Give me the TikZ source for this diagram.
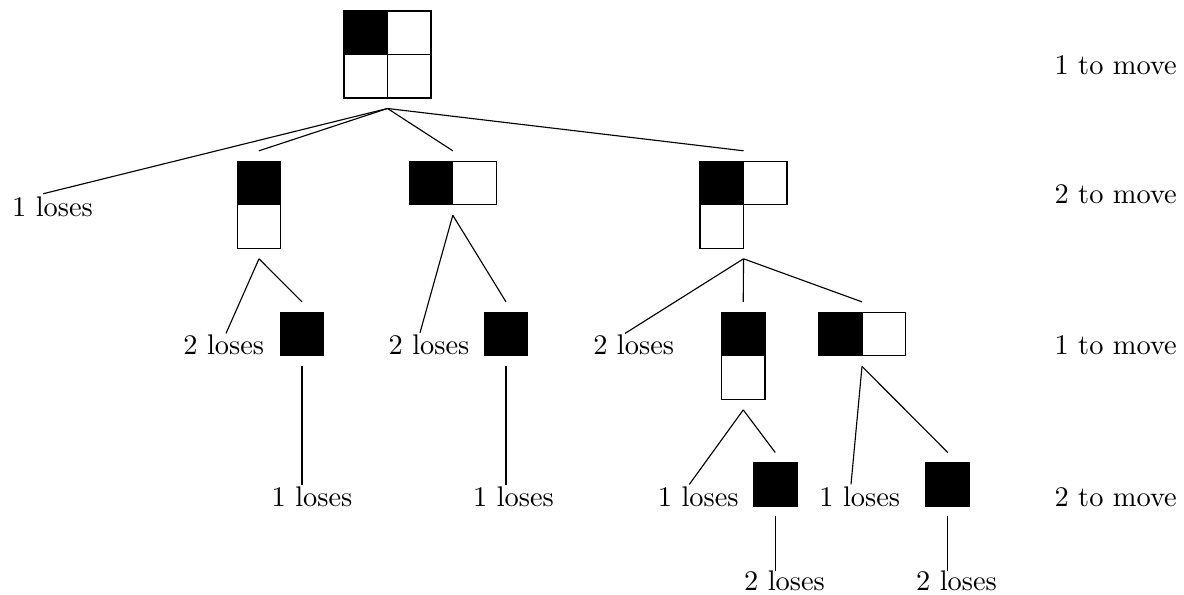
\documentclass[tikz,border=0pt]{standalone}
\usetikzlibrary{calc}
% one unit = one pixel of the 1184 x 595 drawing
\def\cellsz{43.5}
\newcommand\cellat[4]{\path[#4] ($(#1.north west)+(#2,#3)$) rectangle ++(\cellsz,\cellsz);}
\begin{document}
\begin{tikzpicture}[x=0.35211pt, y=-0.35211pt,
  shapebox/.style 2 args={minimum width={#1*0.35211pt}, minimum height={#2*0.35211pt},
                          inner sep=0pt, outer sep=0pt},
  cellw/.style={draw=black, fill=white},
  cellb/.style={draw=black, fill=black},
  lbl/.style={inner sep=0pt, anchor=base},
  rowlbl/.style={inner sep=0pt, anchor=base west},
  branch/.style={draw=black, line width=0.4pt}]
\useasboundingbox (0,0) rectangle (1184,595);

% ---- positions (boards) ----
\node[shapebox={87}{87}]     (g0) at (387.5,54.5) {};
\node[shapebox={43.5}{87}]   (d1) at (259,204.8) {};
\node[shapebox={87}{43.5}]   (d2) at (452.8,183.05) {};
\node[shapebox={87}{87}]     (d3) at (743.5,204.8) {};
\node[shapebox={43.5}{43.5}] (s1) at (302,334.15) {};
\node[shapebox={43.5}{43.5}] (s2) at (506,334.15) {};
\node[shapebox={43.5}{87}]   (d4) at (743.25,355.9) {};
\node[shapebox={87}{43.5}]   (d5) at (862,334.15) {};
\node[shapebox={43.5}{43.5}] (s3) at (775.25,484.75) {};
\node[shapebox={43.5}{43.5}] (s4) at (947.75,484.75) {};

% ---- cells ----
\cellat{g0}{0}{0}{cellb}
\cellat{g0}{43.5}{0}{cellw}
\cellat{g0}{0}{43.5}{cellw}
\cellat{g0}{43.5}{43.5}{cellw}

\cellat{d1}{0}{0}{cellb}
\cellat{d1}{0}{43.5}{cellw}

\cellat{d2}{0}{0}{cellb}
\cellat{d2}{43.5}{0}{cellw}

\cellat{d3}{0}{0}{cellb}
\cellat{d3}{43.5}{0}{cellw}
\cellat{d3}{0}{43.5}{cellw}

\cellat{s1}{0}{0}{cellb}
\cellat{s2}{0}{0}{cellb}

\cellat{d4}{0}{0}{cellb}
\cellat{d4}{0}{43.5}{cellw}

\cellat{d5}{0}{0}{cellb}
\cellat{d5}{43.5}{0}{cellw}

\cellat{s3}{0}{0}{cellb}
\cellat{s4}{0}{0}{cellb}

% ---- outcomes ----
\node[lbl] (t1)  at (52.5,217)  {1 loses};
\node[lbl] (t2)  at (223.8,355) {2 loses};
\node[lbl] (t3)  at (429,355)   {2 loses};
\node[lbl] (t4)  at (633.7,355) {2 loses};
\node[lbl] (t5)  at (312,507)   {1 loses};
\node[lbl] (t6)  at (513.5,507) {1 loses};
\node[lbl] (t7)  at (698.3,507) {1 loses};
\node[lbl] (t8)  at (859.7,507) {1 loses};
\node[lbl] (t9)  at (784.5,591) {2 loses};
\node[lbl] (t10) at (956.5,591) {2 loses};

% ---- whose turn on each level ----
\node[rowlbl] (r0) at (1054,75)  {1 to move};
\node[rowlbl] (r1) at (1054,204) {2 to move};
\node[rowlbl] (r2) at (1054,355) {1 to move};
\node[rowlbl] (r3) at (1054,507) {2 to move};

% ---- moves ----
\coordinate (a0) at ($(g0.south)+(0,10.5)$);
\coordinate (a1) at ($(d1.south)+(0,10.5)$);
\coordinate (a2) at ($(d2.south)+(0,10.5)$);
\coordinate (a3) at ($(d3.south)+(0,10.5)$);
\coordinate (a4) at ($(d4.south)+(0,10.5)$);
\coordinate (a5) at ($(d5.south)+(0,10.5)$);

\draw[branch] (a0) -- ($(t1.north)+(-9.2,-3)$);
\draw[branch] (a0) -- ($(d1.north)+(0,-10.5)$);
\draw[branch] (a0) -- ($(d2.north)+(0,-10.5)$);
\draw[branch] (a0) -- ($(d3.north)+(0,-10.5)$);

\draw[branch] (a1) -- ($(t2.north)+(2.2,-1.3)$);
\draw[branch] (a1) -- ($(s1.north)+(0,-10.5)$);

\draw[branch] (a2) -- ($(t3.north)+(-9,-2)$);
\draw[branch] (a2) -- ($(s2.north)+(0,-10.5)$);

\draw[branch] (a3) -- ($(t4.north)+(-8.7,-1.3)$);
\draw[branch] (a3) -- ($(d4.north)+(0,-10.5)$);
\draw[branch] (a3) -- ($(d5.north)+(0,-10.5)$);

\draw[branch] ($(s1.south)+(0,10.5)$) -- ($(s1.south |- t5.north)+(0,-2)$);
\draw[branch] ($(s2.south)+(0,10.5)$) -- ($(s2.south |- t6.north)+(0,-2)$);

\draw[branch] (a4) -- ($(t7.north)+(-9,-2.3)$);
\draw[branch] (a4) -- ($(s3.north)+(0,-10.5)$);

\draw[branch] (a5) -- ($(t8.north)+(-8.7,-2.3)$);
\draw[branch] (a5) -- ($(s4.north)+(0,-10.5)$);

\draw[branch] ($(s3.south)+(0,10)$) -- (s3.south |- t9.north);
\draw[branch] ($(s4.south)+(0,10)$) -- (s4.south |- t10.north);
\end{tikzpicture}
\end{document}
